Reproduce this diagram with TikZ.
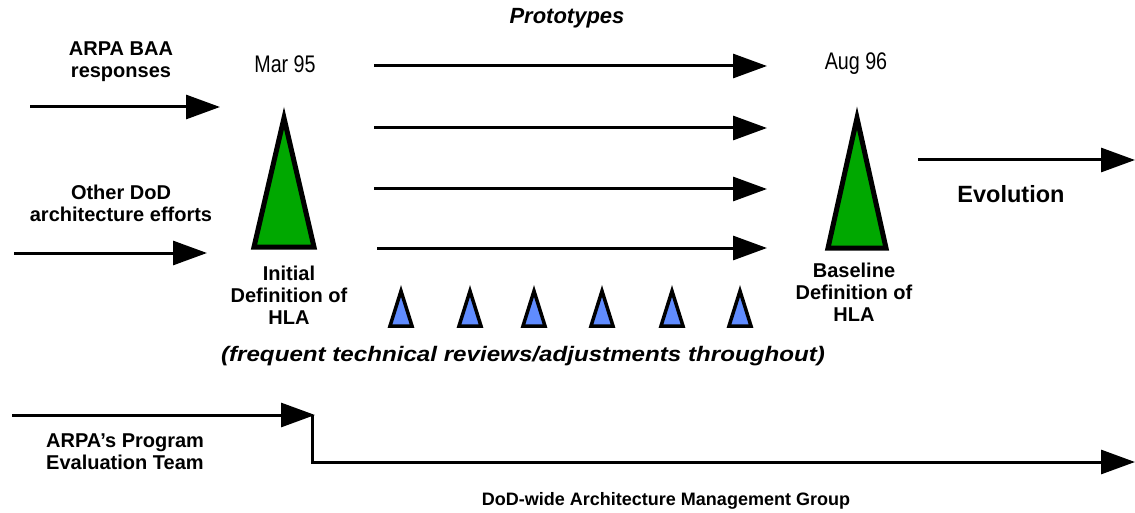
\documentclass[tikz,border=0pt]{standalone}
\usepackage{fontspec}
\setmainfont{Liberation Sans}
\newfontfamily\narrowfont[FakeStretch=0.82]{Liberation Sans}
\newfontfamily\widefont[FakeStretch=1.15]{Liberation Sans}
\usetikzlibrary{arrows.meta}
\definecolor{hlagreen}{RGB}{0,168,0}
\definecolor{revblue}{RGB}{96,140,255}
\begin{document}
\begin{tikzpicture}[x=1pt,y=-1pt,
  arr/.style={line width=3pt,-{Triangle[length=34pt,width=24pt]}},
  lbl/.style={font=\fontsize{20}{22}\selectfont\bfseries,align=center,inner sep=0pt},
  lbll/.style={font=\fontsize{20}{22}\selectfont\bfseries,align=left,inner sep=0pt,anchor=west},
  datelbl/.style={font=\narrowfont\fontsize{24}{26}\selectfont,inner sep=0pt},
  bigtri/.style={draw=black,fill=hlagreen,line width=5pt,miter limit=20},
  smalltri/.style={draw=black,fill=revblue,line width=3.5pt,miter limit=20}]
\useasboundingbox (0,0) rectangle (1135,513);

% titles and labels
\node[font=\fontsize{22}{24}\selectfont\bfseries\itshape,inner sep=0pt] (proto) at (567,18) {Prototypes};
\node[lbl] (arpa) at (121,62) {ARPA BAA\\responses};
\node[lbl] (other) at (121,203) {Other DoD\\architecture efforts};
\node[datelbl] (mar) at (285,64) {Mar 95};
\node[datelbl] (aug) at (856,64) {Aug 96};
\node[lbl] (initial) at (289,295) {Initial\\Definition of\\HLA};
\node[lbl] (baseline) at (854,292) {Baseline\\Definition of\\HLA};
\node[font=\fontsize{23.5}{26}\selectfont\bfseries,inner sep=0pt] (evo) at (1011,194) {Evolution};
\node[font=\widefont\fontsize{21}{24}\selectfont\bfseries\itshape,inner sep=0pt] (freq) at (523,356) {(frequent technical reviews/adjustments throughout)};
\node[lbll] (pet) at (46,452) {ARPA’s Program\\Evaluation Team};
\node[font=\fontsize{18}{20}\selectfont\bfseries,inner sep=0pt] (amg) at (666,501) {DoD-wide Architecture Management Group};

% input arrows
\coordinate (in1s) at (30,107);  \coordinate (in1e) at (220,107);
\coordinate (in2s) at (14,253);  \coordinate (in2e) at (207,253);
\draw[arr] (in1s) -- (in1e);
\draw[arr] (in2s) -- (in2e);

% prototype arrows
\foreach \i/\y/\xs in {1/66/374,2/128/374,3/189/374,4/248/377}{
  \coordinate (p\i s) at (\xs,\y);
  \coordinate (p\i e) at (767,\y);
  \draw[arr] (p\i s) -- (p\i e);
}

% evolution arrow
\coordinate (evs) at (918,160); \coordinate (eve) at (1135,160);
\draw[arr] (evs) -- (eve);

% green milestone triangles
\draw[bigtri] (284,118) -- (314,247) -- (254,247) -- cycle;
\draw[bigtri] (857,118) -- (886,248) -- (828,248) -- cycle;

% blue review triangles
\foreach \x in {401,470,534,602,672,740}{
  \draw[smalltri] (\x,291) -- (\x+11,326) -- (\x-11,326) -- cycle;
}

% management arrows
\coordinate (m1s) at (12,415); \coordinate (m1e) at (315,415);
\coordinate (m2a) at (312,415); \coordinate (m2b) at (312,462);
\coordinate (m2e) at (1135,462);
\draw[arr] (m1s) -- (m1e);
\draw[arr] (m2a) -- (m2b) -- (m2e);
\end{tikzpicture}
\end{document}
